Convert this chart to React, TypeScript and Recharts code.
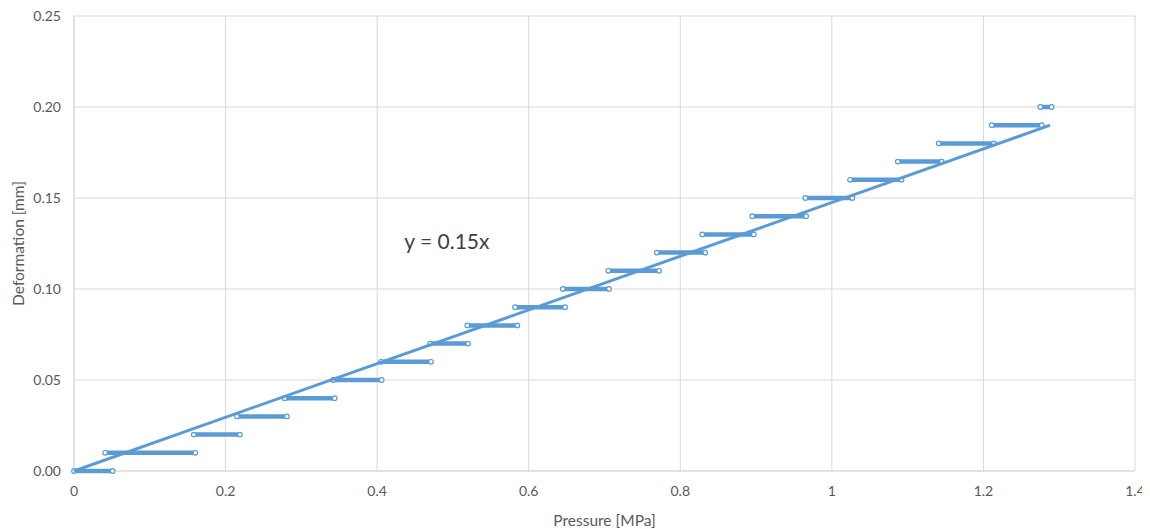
import { ComposedChart, Scatter, XAxis, YAxis, CartesianGrid, ReferenceDot } from "recharts";

const stepLevels = [0, 0.01, 0.02, 0.03, 0.04, 0.05, 0.06, 0.07, 0.08, 0.09, 0.1, 0.11, 0.12, 0.13, 0.14, 0.15, 0.16, 0.17, 0.18, 0.19, 0.2];
const stepStart = [0, 0.041, 0.158, 0.215, 0.278, 0.342, 0.405, 0.47, 0.519, 0.582, 0.645, 0.705, 0.769, 0.829, 0.895, 0.965, 1.024, 1.087, 1.141, 1.211, 1.275];
const stepEnd = [0.051, 0.16, 0.219, 0.281, 0.344, 0.406, 0.471, 0.52, 0.585, 0.648, 0.706, 0.772, 0.833, 0.897, 0.966, 1.027, 1.092, 1.145, 1.214, 1.277, 1.29];

const trendX = [0, 1.288];
const trendY = [0, 0.19];
const trendLabel = "y = 0.15x";

const xTicks = [0, 0.2, 0.4, 0.6, 0.8, 1, 1.2, 1.4];
const yTicks = [0, 0.05, 0.1, 0.15, 0.2, 0.25];

const BLUE = "#5b9bd5";
const GRID = "#d9d9d9";
const TEXT = "#595959";
const FONT = "Lato, 'Open Sans', sans-serif";

const steps = stepLevels.map((y, i) => [
  { x: stepStart[i], y },
  { x: stepEnd[i], y },
]);
const trend = trendX.map((x, i) => ({ x, y: trendY[i] }));

const OpenDot = (props: any) => (
  <circle cx={props.cx} cy={props.cy} r={2.3} fill="#fff" stroke={BLUE} strokeWidth={1.2} />
);

export default function App() {
  return (
    <div style={{ fontFamily: FONT }}>
      <ComposedChart width={1142} height={521} margin={{ top: 8, right: 15, left: 0, bottom: 0 }} style={{ overflow: "visible" }}>
        <CartesianGrid stroke={GRID} strokeWidth={1} />
        <XAxis
          type="number"
          dataKey="x"
          domain={[0, 1.4]}
          ticks={xTicks}
          tickFormatter={(v) => String(v)}
          tickLine={false}
          tickMargin={9}
          axisLine={{ stroke: GRID }}
          height={58}
          tick={{ fill: TEXT, fontSize: 14, fontFamily: FONT }}
          label={{ value: "Pressure [MPa]", position: "insideBottom", offset: 3, fill: TEXT, fontSize: 15.5, fontFamily: FONT }}
        />
        <YAxis
          type="number"
          dataKey="y"
          domain={[0, 0.25]}
          ticks={yTicks}
          tickFormatter={(v) => v.toFixed(2)}
          tickLine={false}
          tickMargin={7}
          axisLine={{ stroke: GRID }}
          width={66}
          tick={{ fill: TEXT, fontSize: 14, fontFamily: FONT }}
          label={{
            value: "Deformation [mm]",
            angle: -90,
            position: "insideLeft",
            offset: 10,
            fill: TEXT,
            fontSize: 15.5,
            fontFamily: FONT,
            style: { textAnchor: "middle" },
          }}
        />
        {steps.map((d, i) => (
          <Scatter
            key={i}
            data={d}
            line={{ stroke: BLUE, strokeWidth: 4.5, strokeLinecap: "round" }}
            shape={OpenDot}
            isAnimationActive={false}
          />
        ))}
        <Scatter
          data={trend}
          line={{ stroke: BLUE, strokeWidth: 3 }}
          shape={() => <g />}
          isAnimationActive={false}
        />
        <ReferenceDot
          x={0.492}
          y={0.1258}
          r={0}
          stroke="none"
          label={{ value: trendLabel, position: "center", fill: "#404040", fontSize: 21, fontFamily: FONT }}
        />
      </ComposedChart>
    </div>
  );
}
